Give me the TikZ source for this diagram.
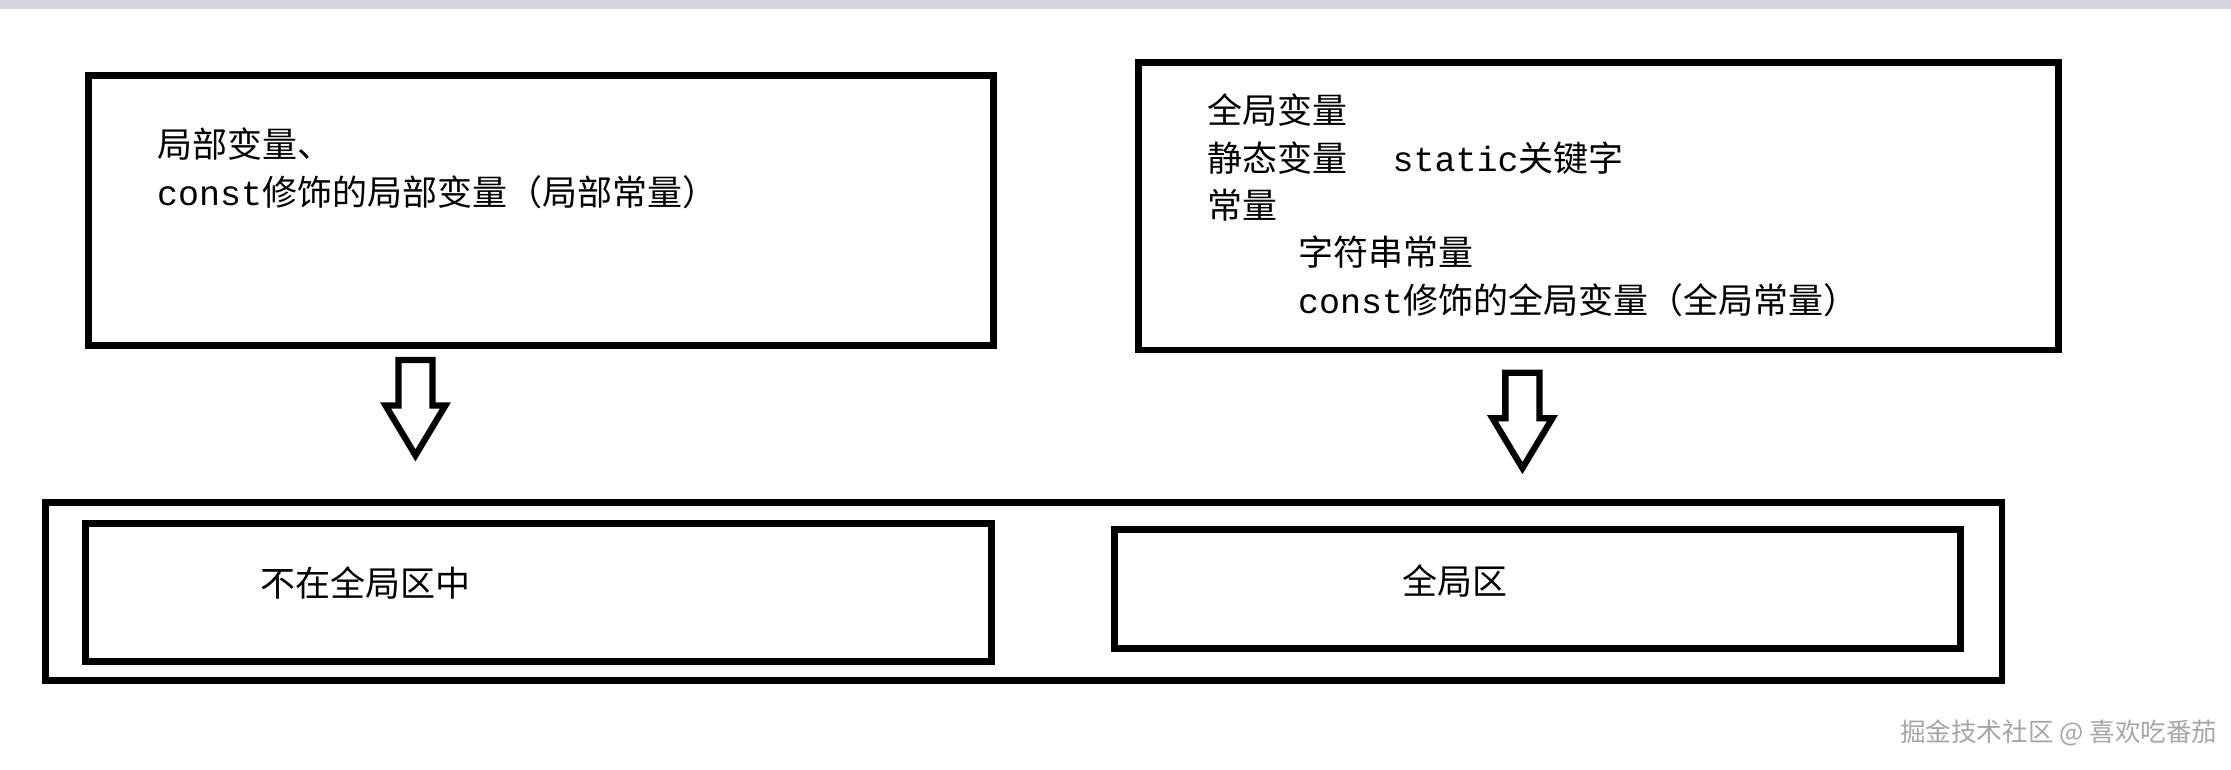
\documentclass[tikz,border=0pt]{standalone}
\usepackage{fontspec}
\setmainfont{Liberation Serif}
\setmonofont{Liberation Mono}
\newfontfamily\cjk{Noto Sans CJK SC}
\usetikzlibrary{positioning}
\tikzset{
  box/.style={draw, line width=2.4pt, inner sep=0pt},
  txt/.style={anchor=west, inner sep=0pt, font=\cjk\fontsize{12.3}{14}\selectfont},
  hollow/.style={draw, line width=2.2pt, line join=miter}
}
\begin{document}
\begin{tikzpicture}[x=0.5pt,y=-0.5pt]
  \fill[white] (0,0) rectangle (1568,541);
  \fill[blue!10!gray!30] (0,0) rectangle (1568,6);
  \useasboundingbox (0,0) rectangle (1568,541);
  % boxes
  \draw[box] (62,53) rectangle (698,243);
  \draw[box] (800,44) rectangle (1447,246);
  \draw[box] (32,353) rectangle (1407,478);
  \draw[box] (60,368) rectangle (697,465);
  \draw[box] (783,372) rectangle (1378,456);
  % hollow arrows
  \foreach \x/\y in {292/253, 1070/262}
    \draw[hollow] (\x-12,\y) -- (\x+12,\y) -- (\x+12,\y+32) -- (\x+21,\y+32)
      -- (\x,\y+67) -- (\x-21,\y+32) -- (\x-12,\y+32) -- cycle;
  % texts
  \node[txt] (l1) at (110,101) {局部变量、};
  \node[txt] (l2) at (110,135) {\texttt{const}修饰的局部变量（局部常量）};
  \node[txt] (r1) at (848,77) {全局变量};
  \node[txt] (r2) at (848,111) {静态变量\hspace{1.3em}\texttt{static}关键字};
  \node[txt] (r3) at (848,144) {常量};
  \node[txt] (r4) at (912,177) {字符串常量};
  \node[txt] (r5) at (912,211) {\texttt{const}修饰的全局变量（全局常量）};
  \node[txt] (b1) at (183,410) {不在全局区中};
  \node[txt] (b2) at (985,408) {全局区};
  \node[txt, text=gray!70, font=\cjk\fontsize{9}{11}\selectfont] (wm) at (1335,515) {掘金技术社区 @ 喜欢吃番茄};
\end{tikzpicture}
\end{document}
